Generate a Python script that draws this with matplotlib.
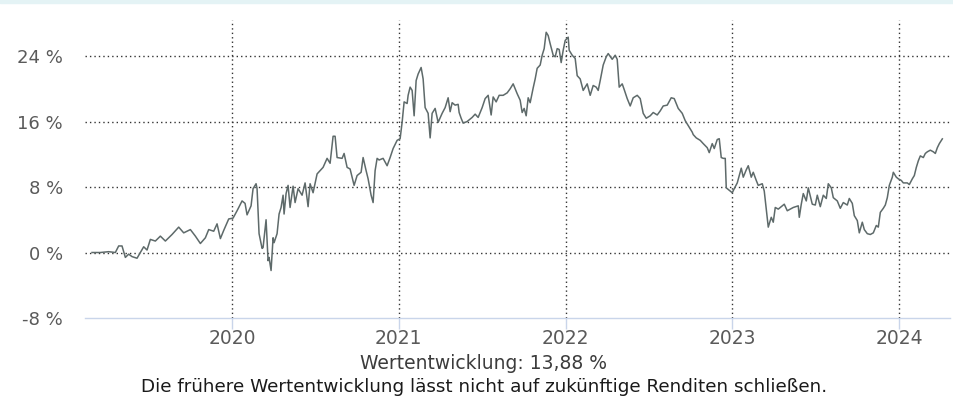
import matplotlib.pyplot as plt
from matplotlib.patches import Rectangle

# time as decimal year, cumulative performance in %
t = [2019.16, 2019.21, 2019.26, 2019.30, 2019.32, 2019.34, 2019.36, 2019.38, 2019.40, 2019.43,
     2019.45, 2019.47, 2019.49, 2019.51, 2019.54, 2019.57, 2019.60, 2019.64, 2019.68, 2019.71,
     2019.75, 2019.78, 2019.81, 2019.84, 2019.86, 2019.89, 2019.91, 2019.93, 2019.95, 2019.98,
     2020.006, 2020.03, 2020.06, 2020.078, 2020.09, 2020.114, 2020.126, 2020.144, 2020.15, 2020.162,
     2020.18, 2020.186, 2020.204, 2020.216, 2020.222, 2020.234, 2020.246, 2020.252, 2020.27, 2020.282,
     2020.294, 2020.306, 2020.312, 2020.324, 2020.336, 2020.348, 2020.366, 2020.378, 2020.396, 2020.42,
     2020.438, 2020.456, 2020.468, 2020.486, 2020.51, 2020.528, 2020.546, 2020.57, 2020.588, 2020.606,
     2020.618, 2020.63, 2020.66, 2020.672, 2020.69, 2020.708, 2020.732, 2020.75, 2020.774, 2020.786,
     2020.804, 2020.816, 2020.834, 2020.846, 2020.858, 2020.87, 2020.882, 2020.906, 2020.93, 2020.948,
     2020.966, 2020.99, 2021.008, 2021.02, 2021.032, 2021.05, 2021.056, 2021.068, 2021.08, 2021.092,
     2021.104, 2021.116, 2021.134, 2021.146, 2021.158, 2021.176, 2021.188, 2021.2, 2021.218, 2021.236,
     2021.26, 2021.278, 2021.296, 2021.308, 2021.32, 2021.338, 2021.356, 2021.362, 2021.374, 2021.386,
     2021.41, 2021.44, 2021.458, 2021.476, 2021.5, 2021.518, 2021.536, 2021.554, 2021.566, 2021.584,
     2021.602, 2021.626, 2021.65, 2021.668, 2021.686, 2021.71, 2021.728, 2021.74, 2021.752, 2021.764,
     2021.776, 2021.788, 2021.806, 2021.818, 2021.83, 2021.848, 2021.86, 2021.872, 2021.884, 2021.896,
     2021.908, 2021.926, 2021.938, 2021.95, 2021.962, 2021.974, 2021.986, 2021.998, 2022.016, 2022.022,
     2022.04, 2022.058, 2022.07, 2022.088, 2022.106, 2022.13, 2022.148, 2022.166, 2022.184, 2022.196,
     2022.208, 2022.226, 2022.244, 2022.256, 2022.28, 2022.298, 2022.31, 2022.322, 2022.34, 2022.352,
     2022.37, 2022.388, 2022.406, 2022.43, 2022.448, 2022.466, 2022.484, 2022.508, 2022.526, 2022.55,
     2022.568, 2022.586, 2022.61, 2022.634, 2022.652, 2022.676, 2022.7, 2022.718, 2022.736, 2022.76,
     2022.766, 2022.784, 2022.808, 2022.826, 2022.85, 2022.862, 2022.88, 2022.892, 2022.91, 2022.922,
     2022.934, 2022.946, 2022.958, 2022.964, 2022.982, 2023.0, 2023.012, 2023.03, 2023.042, 2023.054,
     2023.066, 2023.084, 2023.096, 2023.114, 2023.126, 2023.144, 2023.156, 2023.18, 2023.192, 2023.21,
     2023.216, 2023.234, 2023.246, 2023.258, 2023.276, 2023.3, 2023.312, 2023.33, 2023.348, 2023.366,
     2023.396, 2023.402, 2023.414, 2023.426, 2023.444, 2023.456, 2023.48, 2023.498, 2023.51, 2023.528,
     2023.546, 2023.564, 2023.576, 2023.594, 2023.606, 2023.63, 2023.648, 2023.666, 2023.69, 2023.702,
     2023.72, 2023.732, 2023.75, 2023.762, 2023.78, 2023.792, 2023.81, 2023.828, 2023.846, 2023.864,
     2023.876, 2023.888, 2023.906, 2023.918, 2023.93, 2023.942, 2023.96, 2023.966, 2023.984, 2023.996,
     2024.014, 2024.026, 2024.05, 2024.062, 2024.08, 2024.092, 2024.104, 2024.116, 2024.128, 2024.146,
     2024.158, 2024.17, 2024.188, 2024.206, 2024.218, 2024.23, 2024.242, 2024.26]

perf = [0.0, 0.0, 0.1, 0.0, 0.8, 0.8, -0.6, -0.2, -0.5, -0.7,
        0.0, 0.7, 0.3, 1.6, 1.4, 2.0, 1.4, 2.2, 3.1, 2.4,
        2.8, 2.0, 1.1, 1.8, 2.8, 2.6, 3.5, 1.7, 2.7, 4.1,
        4.2, 5.1, 6.3, 6.0, 4.6, 5.7, 7.8, 8.4, 7.8, 2.3,
        0.5, 0.6, 4.0, -1.0, -0.6, -2.2, 1.8, 1.2, 2.3, 4.7,
        5.5, 7.0, 4.7, 7.2, 8.2, 5.5, 8.1, 6.1, 7.8, 7.0,
        8.5, 5.6, 8.4, 7.3, 9.6, 10.0, 10.4, 11.5, 10.9, 14.2,
        14.2, 11.6, 11.5, 12.1, 10.4, 10.2, 8.2, 9.4, 9.8, 11.6,
        10.0, 9.0, 7.0, 6.1, 10.0, 11.5, 11.3, 11.5, 10.6, 11.6,
        12.7, 13.7, 13.9, 15.9, 18.4, 18.2, 19.2, 20.2, 19.8, 16.7,
        21.0, 21.8, 22.6, 21.2, 17.7, 17.0, 14.0, 17.0, 17.6, 15.9,
        17.0, 17.7, 18.9, 17.2, 18.3, 18.0, 18.1, 17.1, 16.4, 15.8,
        16.0, 16.5, 16.9, 16.5, 17.7, 18.8, 19.2, 16.8, 19.0, 18.4,
        19.2, 19.2, 19.5, 20.0, 20.6, 19.4, 18.6, 17.1, 17.6, 16.7,
        18.9, 18.3, 20.1, 21.2, 22.5, 22.9, 24.1, 24.9, 26.9, 26.5,
        25.5, 24.1, 23.9, 24.9, 24.8, 23.2, 24.7, 25.9, 26.3, 24.7,
        24.1, 23.7, 21.6, 21.2, 19.8, 20.6, 19.2, 20.4, 20.2, 19.8,
        21.0, 22.9, 23.9, 24.3, 23.6, 24.1, 23.6, 20.2, 20.6, 19.9,
        18.8, 17.9, 18.9, 19.2, 18.8, 17.0, 16.4, 16.7, 17.1, 16.8,
        17.3, 17.9, 18.0, 18.9, 18.8, 17.6, 17.0, 16.1, 15.5, 14.7,
        14.4, 14.0, 13.7, 13.3, 12.8, 12.2, 13.3, 12.7, 13.8, 13.9,
        11.6, 11.5, 11.5, 7.9, 7.6, 7.3, 7.8, 8.5, 9.4, 10.3,
        9.2, 10.1, 10.6, 9.2, 9.8, 8.8, 8.2, 8.4, 7.5, 4.2,
        3.1, 4.3, 3.7, 5.5, 5.3, 5.7, 5.9, 5.1, 5.3, 5.5,
        5.7, 4.3, 5.9, 7.2, 6.3, 7.9, 5.9, 5.8, 7.0, 5.6,
        7.0, 6.6, 8.4, 7.9, 6.7, 6.3, 5.4, 6.1, 5.8, 6.6,
        6.0, 4.5, 3.9, 2.4, 3.7, 2.8, 2.3, 2.2, 2.4, 3.3,
        3.1, 4.9, 5.4, 5.8, 6.7, 8.2, 9.2, 9.8, 9.2, 9.0,
        8.8, 8.5, 8.5, 8.3, 9.0, 9.4, 10.4, 11.2, 11.8, 11.6,
        12.1, 12.3, 12.5, 12.3, 12.1, 12.8, 13.3, 13.88]

years = [2020, 2021, 2022, 2023, 2024]
yticks = [-8, 0, 8, 16, 24]
total = "13,88 %"

plt.rcParams['font.family'] = ['DejaVu Sans']

fig = plt.figure(figsize=(9.54, 4.0), dpi=100)
ax = fig.add_axes([85/954, 1-318/400, 865/954, 298/400])

ax.plot(t, perf, color="#5e6a6a", lw=1.1, zorder=3)

ax.set_xlim(2019.118, 2024.306)
ax.set_ylim(-8, 28.4)
ax.set_xticks(years)
ax.set_xticklabels([str(y) for y in years])
ax.set_yticks(yticks)
ax.set_yticklabels([f"{v} %" for v in yticks])

dots = (0, (1, 2.2))
for v in yticks[1:]:
    ax.axhline(v, color="#333333", lw=1.0, ls=dots, zorder=1)
for y in years:
    ax.axvline(y, color="#333333", lw=1.0, ls=dots, zorder=1)

for s in ["top", "right", "left"]:
    ax.spines[s].set_visible(False)
ax.spines["bottom"].set_color("#c9d5ea")
ax.spines["bottom"].set_linewidth(1.0)

ax.tick_params(axis="x", length=8, width=1, color="#c9d5ea", pad=0,
               labelsize=13.5, labelcolor="#5a5a5a")
ax.tick_params(axis="y", length=0, pad=16, labelsize=13, labelcolor="#5a5a5a")

fig.text(484/954, 1-369/400, "Wertentwicklung: " + total, ha="center", va="baseline",
         fontsize=13.5, color="#3c3c3c")
fig.text(484/954, 1-392/400, "Die frühere Wertentwicklung lässt nicht auf zukünftige Renditen schließen.",
         ha="center", va="baseline", fontsize=13.2, color="#1a1a1a")

fig.patches.append(Rectangle((0, 1-3/400), 1, 3/400, transform=fig.transFigure,
                             color="#e4f3f5", zorder=0))

plt.savefig("out.png", dpi=100)
